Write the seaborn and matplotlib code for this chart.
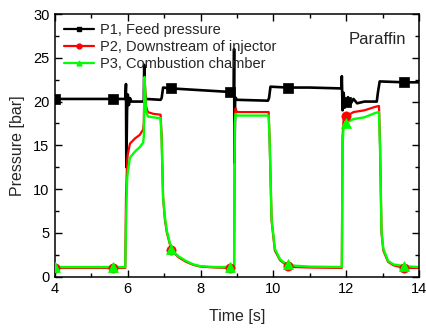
import numpy as np
import pandas as pd
import matplotlib
matplotlib.use("Agg")
import matplotlib.pyplot as plt
from matplotlib.lines import Line2D
from matplotlib.ticker import MultipleLocator
import seaborn as sns

# ---- data ----
t_p1 = [4.0, 5.6, 5.93, 5.95, 5.96, 5.98, 6.0, 6.03, 6.06, 6.1, 6.44, 6.45, 6.47, 6.5,
        6.9, 6.93, 6.97, 7.2, 8.0, 8.8, 8.91, 8.92, 8.93, 8.95, 9.0, 9.85, 9.88, 9.92,
        10.4, 11.0, 11.87, 11.88, 11.9, 11.93, 11.96, 12.0, 12.05, 12.1, 12.2, 12.3,
        12.5, 12.84, 12.87, 12.92, 13.6, 14.0]
p1 = [20.3, 20.3, 20.3, 22.0, 12.5, 19.0, 20.8, 19.6, 20.4, 20.0, 20.0, 24.2, 20.8, 20.3,
      20.2, 20.4, 21.6, 21.5, 21.3, 21.1, 21.1, 26.0, 13.0, 20.5, 20.2, 20.1, 20.4, 21.7,
      21.6, 21.6, 21.5, 22.9, 19.0, 21.0, 19.3, 20.0, 20.5, 19.6, 20.3, 19.8,
      20.0, 20.0, 21.0, 22.3, 22.2, 22.2]

t_p2 = [4.0, 5.6, 5.93, 5.95, 5.98, 6.0, 6.06, 6.2, 6.33, 6.42, 6.44, 6.46, 6.5, 6.55,
        6.7, 6.9, 6.93, 6.97, 7.02, 7.07, 7.15, 7.2, 7.3, 7.4, 7.6, 7.8, 8.0, 8.4, 8.8,
        8.92, 8.94, 8.96, 9.0, 9.5, 9.87, 9.9, 9.95, 10.04, 10.18, 10.3, 10.4, 10.6,
        11.0, 11.88, 11.9, 11.93, 12.0, 12.2, 12.5, 12.8, 12.9, 12.93, 12.97, 13.02,
        13.15, 13.3, 13.6, 14.0]
p2 = [1.0, 1.0, 1.0, 9.0, 13.0, 14.0, 15.2, 15.8, 16.2, 16.8, 17.5, 22.8, 19.5, 18.8,
      18.6, 18.5, 16.0, 9.0, 6.5, 5.1, 3.8, 3.1, 2.6, 2.2, 1.7, 1.35, 1.15, 1.05, 1.0,
      1.0, 18.0, 19.2, 18.8, 18.8, 18.8, 15.0, 6.4, 3.0, 1.9, 1.5, 1.2, 1.1,
      1.05, 1.0, 16.0, 18.0, 18.3, 18.8, 19.0, 19.4, 19.5, 15.0, 5.0, 3.0,
      1.7, 1.3, 1.0, 1.0]

t_p3 = t_p2
p3 = [1.1, 1.1, 1.1, 6.0, 11.0, 12.0, 13.6, 14.3, 14.8, 15.3, 16.0, 22.8, 19.0, 18.3,
      18.2, 18.1, 15.5, 9.0, 6.8, 5.3, 3.9, 3.2, 2.7, 2.3, 1.8, 1.4, 1.2, 1.1, 1.1,
      1.1, 17.5, 18.6, 18.4, 18.4, 18.4, 15.0, 6.6, 3.2, 2.0, 1.6, 1.4, 1.25,
      1.15, 1.1, 15.0, 17.3, 17.6, 18.0, 18.2, 18.7, 18.8, 14.5, 5.2, 3.2,
      1.8, 1.4, 1.2, 1.1]

marker_times = [4.0, 5.6, 7.2, 8.8, 10.4, 12.0, 13.6]

labels = ["P1, Feed pressure", "P2, Downstream of injector", "P3, Combustion chamber"]
colors = ["#000000", "#ff0000", "#00ff00"]
markers = ["s", "o", "^"]

x_ticks = [4, 6, 8, 10, 12, 14]
y_ticks = [0, 5, 10, 15, 20, 25, 30]

# ---- plotting ----
sns.set_style("ticks")
plt.rcParams["font.family"] = ["Liberation Sans", "DejaVu Sans"]

fig = plt.figure(figsize=(4.26, 3.31), dpi=100)
ax = fig.add_axes([55 / 426, 1 - 276.7 / 331, 364 / 426, 262.7 / 331])

series = [(t_p1, p1), (t_p2, p2), (t_p3, p3)]
msizes = [44, 44, 52]
lws = [1.9, 1.6, 1.7]
for (tt, vv), c, m, ms, lw in zip(series, colors, markers, msizes, lws):
    df = pd.DataFrame({"t": tt, "p": vv})
    sns.lineplot(data=df, x="t", y="p", ax=ax, color=c, linewidth=lw,
                 estimator=None, sort=False, legend=False)
    dm = df[df["t"].isin(marker_times)]
    sns.scatterplot(data=dm, x="t", y="p", ax=ax, color=c, marker=m, s=ms,
                    edgecolor=c, linewidth=0.5, legend=False, zorder=3)

ax.set_xlim(4, 14)
ax.set_ylim(0, 30)
ax.set_xticks(x_ticks)
ax.set_yticks(y_ticks)
ax.xaxis.set_minor_locator(MultipleLocator(1))
ax.yaxis.set_minor_locator(MultipleLocator(2.5))
ax.tick_params(which="both", direction="in", top=True, right=True, width=1,
               labelsize=10.5, colors="black")
ax.tick_params(which="major", length=5, pad=4)
ax.tick_params(which="minor", length=3)
for s in ax.spines.values():
    s.set_linewidth(1.1)
    s.set_color("black")

ax.set_xlabel("Time [s]", fontsize=11.5, labelpad=9)
ax.set_ylabel("Pressure [bar]", fontsize=11.5, labelpad=6)

handles = [Line2D([], [], color=c, marker=m, markersize=3.5, linewidth=1.6,
                  markeredgecolor=c) for c, m in zip(colors, markers)]
ax.legend(handles, labels, loc="upper left", bbox_to_anchor=(0.0, 1.0),
          frameon=False, fontsize=10.5, handlelength=2.1, handletextpad=0.4,
          labelspacing=0.22, borderaxespad=0.3, borderpad=0.3)

ax.text(0.966, 0.904, "Paraffin", transform=ax.transAxes, ha="right", va="center",
        fontsize=12)

fig.savefig("out.png", dpi=100)
